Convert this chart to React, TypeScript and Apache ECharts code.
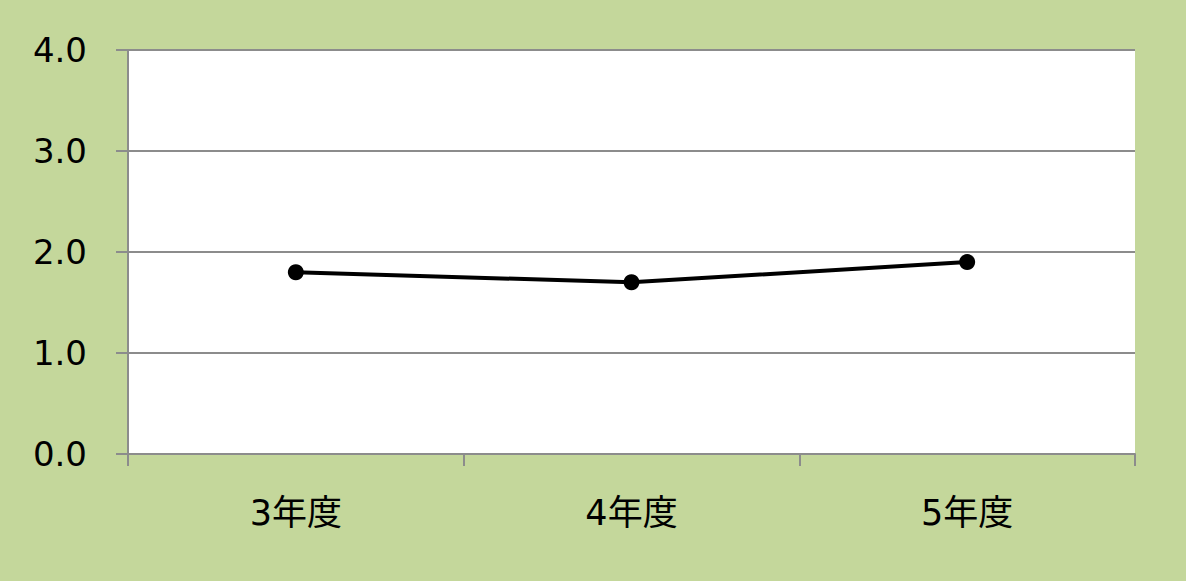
import React, { useEffect, useRef } from "react";
import * as echarts from "echarts";

const categories = ["3年度", "4年度", "5年度"];
const values = [1.8, 1.7, 1.9];
const yTicks = { min: 0, max: 4, interval: 1 };

export default function App() {
  const ref = useRef<HTMLDivElement>(null);
  useEffect(() => {
    document.body.style.margin = "0";
    const chart = echarts.init(ref.current!, null, { renderer: "svg" });
    const font = "'DejaVu Sans', 'Noto Sans CJK JP', sans-serif";
    chart.setOption({
      animation: false,
      backgroundColor: "#c4d79b",
      grid: { left: 128, right: 51, top: 50, bottom: 127, backgroundColor: "#ffffff", show: true, borderWidth: 0 },
      xAxis: {
        type: "category",
        data: categories,
        boundaryGap: true,
        axisLine: { show: true, lineStyle: { color: "#8c8c8c", width: 2 } },
        axisTick: { show: true, length: 12, alignWithLabel: false, lineStyle: { color: "#8c8c8c", width: 2 } },
        axisLabel: { color: "#000", fontSize: 35, fontFamily: font, margin: 41 },
      },
      yAxis: {
        type: "value",
        min: yTicks.min,
        max: yTicks.max,
        interval: yTicks.interval,
        axisLine: { show: true, lineStyle: { color: "#8c8c8c", width: 2 } },
        axisTick: { show: true, length: 12, lineStyle: { color: "#8c8c8c", width: 2 } },
        splitLine: { show: true, lineStyle: { color: "#8c8c8c", width: 2 } },
        axisLabel: {
          color: "#000",
          fontSize: 34,
          fontFamily: font,
          margin: 41,
          padding: [0, 0, 10, 0],
          formatter: (v: number) => v.toFixed(1),
        },
      },
      series: [
        {
          type: "line",
          data: values,
          symbol: "circle",
          symbolSize: 16,
          lineStyle: { color: "#000", width: 4 },
          itemStyle: { color: "#000" },
        },
      ],
    });
    return () => chart.dispose();
  }, []);
  return <div ref={ref} style={{ width: 1186, height: 581 }} />;
}
